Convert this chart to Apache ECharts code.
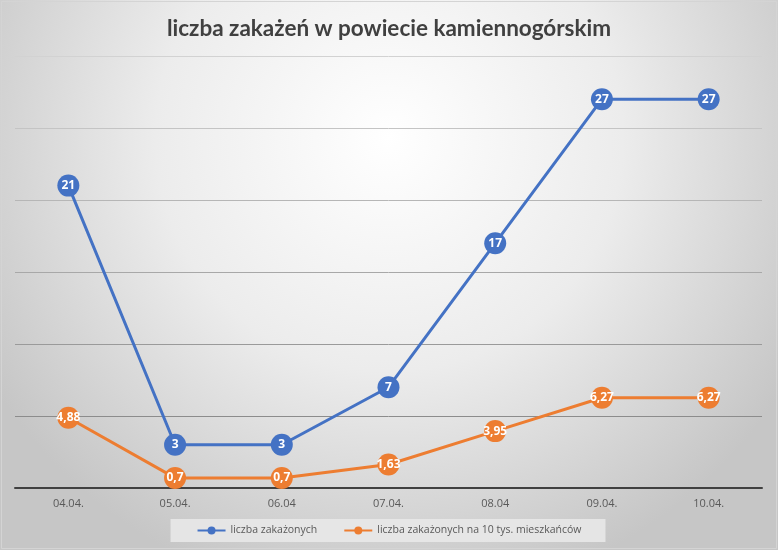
<!DOCTYPE html>
<html>
<head>
<meta charset="utf-8">
<script src="https://cdn.jsdelivr.net/npm/echarts@6/dist/echarts.min.js"></script>
<style>
html,body{margin:0;padding:0;}
#main{width:778px;height:550px;}
</style>
</head>
<body>
<div id="main"></div>
<script>
// dane
var dni = ['04.04.', '05.04.', '06.04', '07.04.', '08.04', '09.04.', '10.04.'];
var zakazeni = [21, 3, 3, 7, 17, 27, 27];
var na10tys = [4.88, 0.7, 0.7, 1.63, 3.95, 6.27, 6.27];
var nazwy = ['liczba zakażonych', 'liczba zakażonych na 10 tys. mieszkańców'];

var myChart = echarts.init(document.getElementById('main'));

function przecinek(p){
	return String(p.value).replace('.', ',');
}

option = {
	backgroundColor: {
		type: 'radial', x: 0.5, y: 0.25, r: 0.85,
		colorStops: [
			{offset: 0, color: '#ffffff'},
			{offset: 0.5, color: '#ececec'},
			{offset: 1, color: '#c6c6c6'}
		]
	},
	title: {
		text: 'liczba zakażeń w powiecie kamiennogórskim',
		left: 'center',
		top: 12,
		textStyle: {fontFamily: 'Lato', fontSize: 22.5, fontWeight: 'bold', color: '#404040'}
	},
	graphic: [{
		type: 'rect', shape: {x: 1.5, y: 1.5, width: 775, height: 547},
		style: {fill: 'none', stroke: '#d4d4d4', lineWidth: 1}, silent: true
	}],
	legend: {
		data: nazwy,
		bottom: 8,
		left: 'center',
		itemWidth: 28,
		itemHeight: 10,
		itemGap: 26,
		padding: [6, 24, 6, 26],
		backgroundColor: 'rgba(232,232,232,0.9)',
		textStyle: {fontFamily: 'Open Sans', fontSize: 10.5, color: '#595959'}
	},
	grid: {left: 15, right: 16, top: 56, bottom: 62, containLabel: false},
	xAxis: {
		type: 'category',
		data: dni,
		boundaryGap: true,
		axisLine: {lineStyle: {color: '#404040', width: 2}},
		axisTick: {show: false},
		axisLabel: {fontFamily: 'Open Sans', fontSize: 11, color: '#595959', margin: 10}
	},
	yAxis: {
		type: 'value',
		min: 0, max: 30, interval: 5,
		axisLabel: {show: false},
		axisLine: {show: false},
		axisTick: {show: false},
		splitLine: {lineStyle: {width: 1, color: ['#888888', '#8c8c8c', '#9a9a9a', '#a8a8a8', '#b6b6b6', '#c4c4c4', '#d2d2d2']}}
	},
	series: [
		{
			name: nazwy[0],
			type: 'line',
			data: zakazeni,
			symbol: 'circle',
			symbolSize: 22,
			color: '#4472C4',
			lineStyle: {width: 3},
			itemStyle: {color: '#4472C4'},
			label: {show: true, position: 'inside', color: '#fff', fontWeight: 'bold', fontSize: 12, fontFamily: 'Open Sans', formatter: przecinek},
			z: 3
		},
		{
			name: nazwy[1],
			type: 'line',
			data: na10tys,
			symbol: 'circle',
			symbolSize: 22,
			color: '#ED7D31',
			lineStyle: {width: 3},
			itemStyle: {color: '#ED7D31'},
			label: {show: true, position: 'inside', color: '#fff', fontWeight: 'bold', fontSize: 12, fontFamily: 'Open Sans', formatter: przecinek},
			z: 2
		}
	]
};
myChart.setOption(option);
</script>
</body>
</html>
